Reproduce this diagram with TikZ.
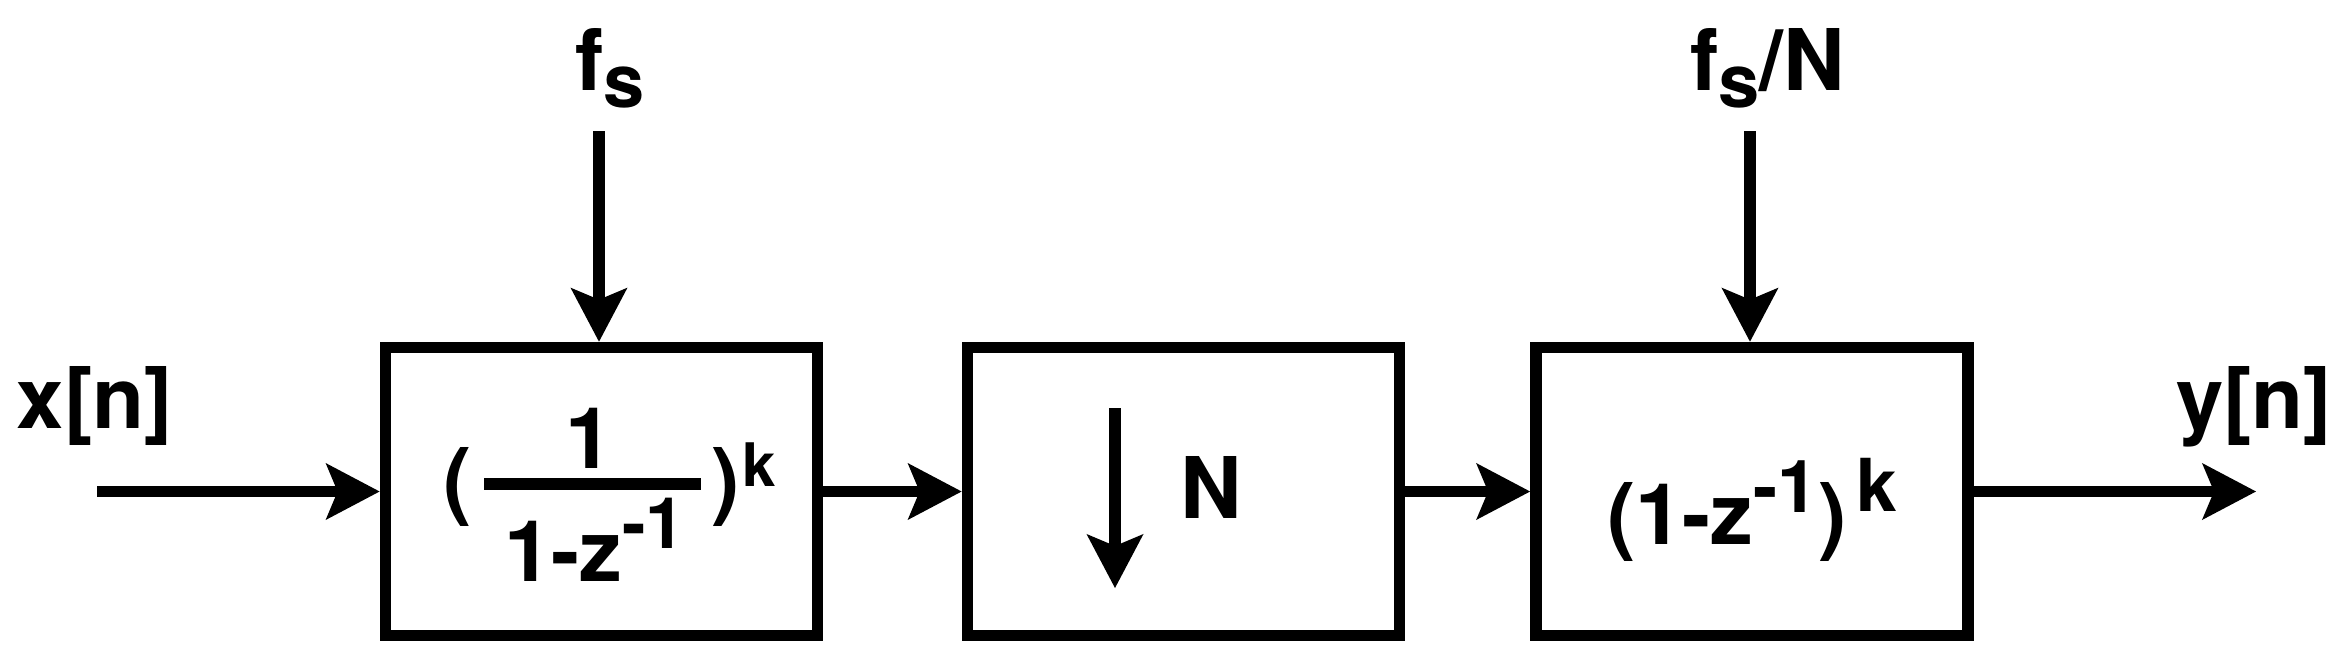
\documentclass[tikz,border=0pt]{standalone}
\usepackage{fontspec}
\setmainfont{TeX Gyre Heros}
\usetikzlibrary{arrows.meta}
\newcommand\fsmain{\fontsize{24.19pt}{29pt}\selectfont\bfseries}
\newcommand\fssupA{\fontsize{20.2pt}{24pt}\selectfont\bfseries}
\newcommand\fssupB{\fontsize{20.77pt}{24pt}\selectfont\bfseries}
\newcommand\fssupK{\fontsize{17.07pt}{20pt}\selectfont\bfseries}
\newcommand\fssubS{\fontsize{21.06pt}{25pt}\selectfont\bfseries}
\begin{document}
\begin{tikzpicture}[x=0.01cm,y=-0.01cm,
  blk/.style={draw, line width=0.115cm, minimum width=4.32cm, minimum height=2.88cm, inner sep=0pt, outer sep=0.0575cm},
  txt/.style={anchor=base west, inner sep=0pt, outer sep=0pt, font=\fsmain},
  arr/.style={line width=0.115cm, -{Stealth[length=0.54cm, width=0.57cm, inset=0.12cm, line width=0pt]}}]
\useasboundingbox[fill=white] (0,0) rectangle (2344,663);
% blocks
\node[blk] (b1) at (601.5,491.5) {};
\node[blk] (b2) at (1183.5,491.5) {};
\node[blk] (b3) at (1752,491.5) {};
% labels
\node[txt] (xlab) at (17,428) {x[n]};
\node[txt] (ylab) at (2176,428) {y[n]};
\node[txt] (fslab) at (575,90) {f\raisebox{-0.17cm}{\fssubS s}};
\node[txt] (fsNlab) at (1690,90) {f\raisebox{-0.17cm}{\fssubS s}/N};
% block 1 content
\node[txt] (b1num) at (565,468) {1};
\node[txt] (b1den) at (504,581) {1-z\raisebox{0.32cm}{\fssupA -1}};
\node[txt] (b1lp) at (443,509) {(};
\node[txt] (b1rp) at (711,509) {)};
\node[txt, font=\fssupK] (b1k) at (742,486) {k};
\coordinate (barL) at (484,484);
\coordinate (barR) at (701,484);
\draw[line width=0.12cm] (barL) -- (barR);
% block 2 content
\node[txt] (b2n) at (1180,518) {N};
\coordinate (dnS) at (1115,408);
\coordinate (dnE) at (1115,588);
\draw[arr] (dnS) -- (dnE);
% block 3 content
\node[txt] (b3txt) at (1607,544) {(1-z\raisebox{0.31cm}{\fssupB -1})\hspace{0.1cm}\raisebox{0.32cm}{\fssupB k}};
% connectors
\coordinate (in) at (97,491.5);
\coordinate (out) at (2256,491.5);
\coordinate (fsin) at (599,131);
\coordinate (fsNin) at (1750,131);
\draw[arr] (in) -- (b1.west);
\draw[arr] (b1.east) -- (b2.west);
\draw[arr] (b2.east) -- (b3.west);
\draw[arr] (b3.east) -- (out);
\draw[arr] (fsin) -- (fsin |- b1.north);
\draw[arr] (fsNin) -- (fsNin |- b3.north);
\end{tikzpicture}
\end{document}
